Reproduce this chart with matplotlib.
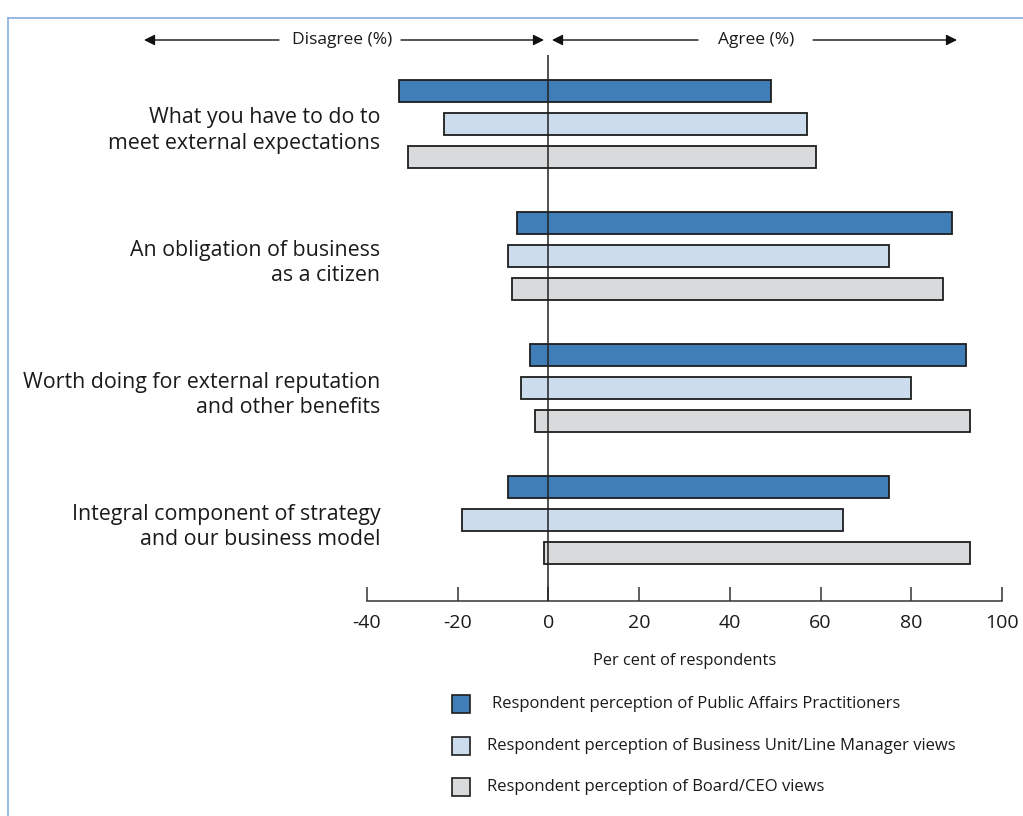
import matplotlib
matplotlib.use("Agg")
import matplotlib.pyplot as plt
from matplotlib.patches import Rectangle, FancyArrowPatch
from matplotlib.lines import Line2D
from matplotlib.transforms import ScaledTranslation

plt.rcParams['font.family'] = ['Open Sans', 'DejaVu Sans']

# Statements rated by respondents
categories = [
    "What you have to do to\nmeet external expectations",
    "An obligation of business\nas a citizen",
    "Worth doing for external reputation\nand other benefits",
    "Integral component of strategy\nand our business model",
]
series_names = [
    "Respondent perception of Public Affairs Practitioners",
    "Respondent perception of Business Unit/Line Manager views",
    "Respondent perception of Board/CEO views",
]
# Disagree shares (plotted to the left of zero) and agree shares (right)
disagree_pa = [33, 7, 4, 9]
agree_pa = [49, 89, 92, 75]
disagree_bu = [23, 9, 6, 19]
agree_bu = [57, 75, 80, 65]
disagree_ceo = [31, 8, 3, 1]
agree_ceo = [59, 87, 93, 93]

x_ticks = [-40, -20, 0, 20, 40, 60, 80, 100]
x_ticklabels = ["-40", "-20", "0", "20", "40", "60", "80", "100"]

colors = ["#3F7EB6", "#CCDCEC", "#D9DADB"]
edge = "#1E1E1E"
text_c = "#1a1a1a"

W, H = 1023, 816
fig = plt.figure(figsize=(W / 100, H / 100), dpi=100)

def fx(px):
    return px / W

def fy(py):
    return 1 - py / H

ax_left, ax_right = 367, 1002
ax_top, ax_bottom = 55, 601
ax = fig.add_axes([fx(ax_left), fy(ax_bottom), fx(ax_right - ax_left), (ax_bottom - ax_top) / H])

disagree = [disagree_pa, disagree_bu, disagree_ceo]
agree = [agree_pa, agree_bu, agree_ceo]
bar_h = 0.67
for s in range(3):
    ys = [g * 4 + s for g in range(len(categories))]
    lefts = [-d for d in disagree[s]]
    widths = [d + a for d, a in zip(disagree[s], agree[s])]
    ax.barh(ys, widths, left=lefts, height=bar_h, color=colors[s],
            edgecolor=edge, linewidth=1.3, zorder=2)

ax.axvline(0, color="#222222", linewidth=1.1, zorder=3)

ax.set_xlim(-40, 100)
ax.set_ylim(15.45, -1.09)
ax.set_xticks(x_ticks)
ax.set_xticklabels(x_ticklabels, fontsize=14, color=text_c)
ax.tick_params(axis="x", direction="in", length=10, width=1.1, pad=9, color="#333333")
ax.set_yticks([g * 4 + 1 for g in range(len(categories))])
ax.set_yticklabels(categories, fontsize=15.4, color=text_c, linespacing=1.26)
ax.tick_params(axis="y", length=0, pad=-9.5)
nudge = ScaledTranslation(0, -2 / 100, fig.dpi_scale_trans)
for lab in ax.get_yticklabels():
    lab.set_transform(lab.get_transform() + nudge)
for side in ["top", "right", "left"]:
    ax.spines[side].set_visible(False)
ax.spines["bottom"].set_linewidth(1.1)
ax.spines["bottom"].set_color("#333333")
ax.patch.set_alpha(0)

fig.text(fx(685), fy(661), "Per cent of respondents", ha="center", va="center",
         fontsize=11.8, color=text_c)

# Direction indicators above the plot
arrow_y = fy(40)
def arrow(x0, x1):
    fig.add_artist(FancyArrowPatch(
        (fx(x0), arrow_y), (fx(x1), arrow_y), transform=fig.transFigure,
        arrowstyle="-|>,head_length=4,head_width=2", color="#111111",
        linewidth=1.0, mutation_scale=1.6, shrinkA=0, shrinkB=0))

arrow(279, 144)
arrow(401, 544)
arrow(698, 552)
arrow(813, 957)
fig.text(fx(342), arrow_y, "Disagree (%)", ha="center", va="center", fontsize=12.5, color=text_c)
fig.text(fx(756), arrow_y, "Agree (%)", ha="center", va="center", fontsize=12.5, color=text_c)

# Legend
legend_rows = [704, 746, 787]
text_x = [492, 487, 487]
for s, name in enumerate(series_names):
    yc = legend_rows[s]
    fig.add_artist(Rectangle((fx(452), fy(yc + 9)), 18 / W, 18 / H, transform=fig.transFigure,
                             facecolor=colors[s], edgecolor=edge, linewidth=1.2))
    fig.text(fx(text_x[s]), fy(yc), name, ha="left", va="center", fontsize=12, color=text_c)

# Panel frame
frame_c = "#86AEDD"
fig.add_artist(Line2D([fx(8), 1], [fy(18), fy(18)], transform=fig.transFigure, color=frame_c, linewidth=1.2))
fig.add_artist(Line2D([fx(8), fx(8)], [fy(18), 0], transform=fig.transFigure, color=frame_c, linewidth=1.2))

fig.savefig("out.png", dpi=100)
